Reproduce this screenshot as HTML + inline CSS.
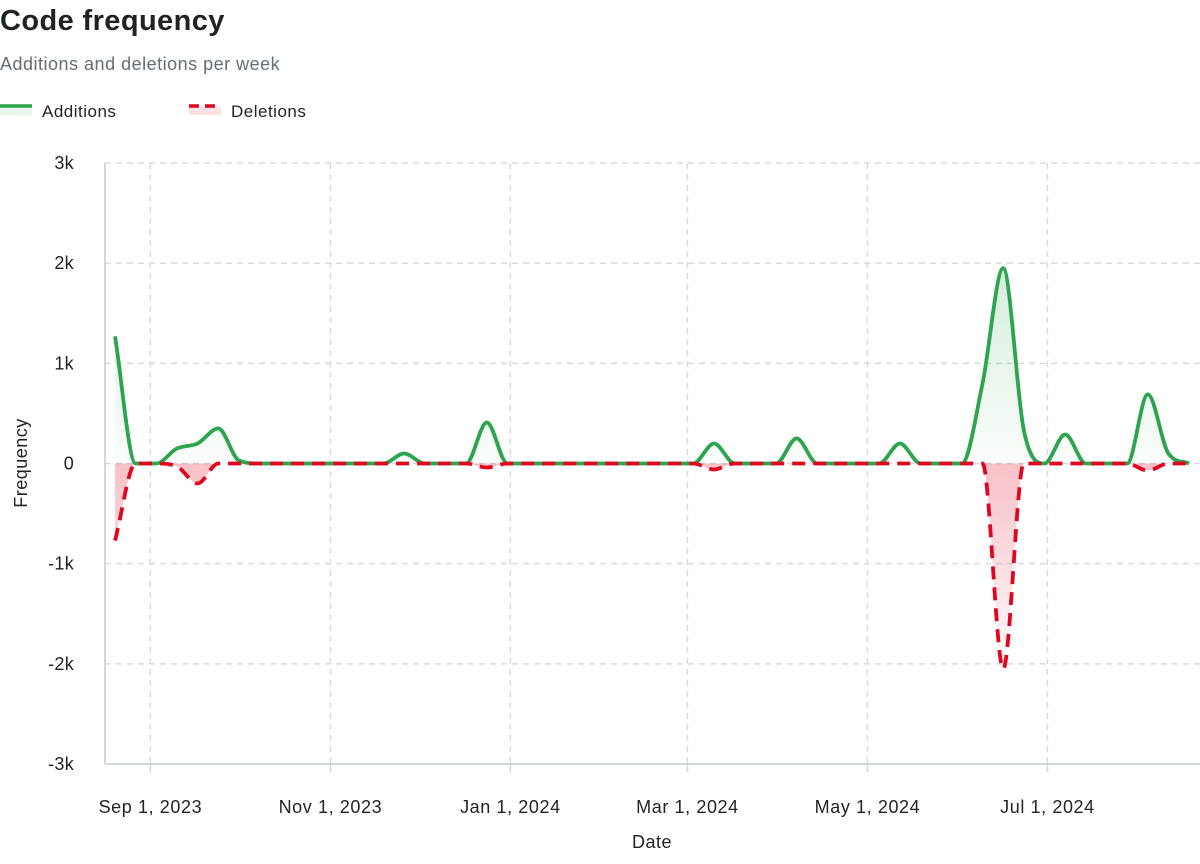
<!DOCTYPE html>
<html><head><meta charset="utf-8">
<style>
body{margin:0;background:#fff;font-family:"Liberation Sans","DejaVu Sans",sans-serif;}
#wrap{position:relative;width:1200px;height:864px;overflow:hidden;}
</style></head>
<body>
<div id="wrap">
<svg id="chart" width="1200" height="864" xmlns="http://www.w3.org/2000/svg">
<defs></defs>
<text x="0" y="30" font-size="29" font-weight="bold" fill="#1f2328" letter-spacing="0.4">Code frequency</text>
<text x="0" y="70" font-size="18" fill="#656d76" letter-spacing="0.5">Additions and deletions per week</text>
<g>
<line x1="0" y1="106" x2="32" y2="106" stroke="#2da44e" stroke-width="3.5"/>
<rect x="0" y="107" width="32" height="8" fill="#2da44e" opacity="0.1"/>
<text x="42" y="117" font-size="17" fill="#1f2328" letter-spacing="0.5">Additions</text>
</g>
<g>
<line x1="189" y1="106" x2="221" y2="106" stroke="#e0061f" stroke-width="3.5" stroke-dasharray="10,6"/>
<rect x="189" y="107" width="32" height="8" fill="#e0061f" opacity="0.12"/>
<text x="231" y="117" font-size="17" fill="#1f2328" letter-spacing="0.5">Deletions</text>
</g>
<g id="grid"></g>
<g id="marks"></g>
<g id="axes"></g>
</svg>
</div>
<script>
const weekStart = "2023-08-20";
const additions = [1270,0,0,150,200,350,30,0,0,0,0,0,0,0,100,0,0,0,410,0,0,0,0,0,0,0,0,0,0,200,0,0,0,250,0,0,0,0,200,0,0,0,800,1950,330,0,290,0,0,0,690,100,0];
const deletions = [-770,0,0,-30,-200,0,0,0,0,0,0,0,0,0,0,0,0,0,-40,0,0,0,0,0,0,0,0,0,0,-60,0,0,0,0,0,0,0,0,0,0,0,0,0,-2050,0,0,0,0,0,0,-70,0,0];
const yTicks = [3000,2000,1000,0,-1000,-2000,-3000];
const yTickLabels = ["3k","2k","1k","0","-1k","-2k","-3k"];
const xTickDates = ["2023-09-01","2023-11-01","2024-01-01","2024-03-01","2024-05-01","2024-07-01"];
const xTickLabels = ["Sep 1, 2023","Nov 1, 2023","Jan 1, 2024","Mar 1, 2024","May 1, 2024","Jul 1, 2024"];

const NS="http://www.w3.org/2000/svg";
const L=105,R=1200,T=163,B=764;
const day=864e5;
const t0=Date.parse(weekStart);
const pxPerDay=180/61;
const x0=115;
function xDate(s){return x0+(Date.parse(s)-t0)/day*pxPerDay;}
function xIdx(i){return x0+i*7*pxPerDay;}
function y(v){return T+(3000-v)/6000*(B-T);}
function el(tag,attrs,parent){const e=document.createElementNS(NS,tag);for(const k in attrs)e.setAttribute(k,attrs[k]);parent.appendChild(e);return e;}
const grid=document.getElementById('grid'),marks=document.getElementById('marks'),axes=document.getElementById('axes'),defs=document.querySelector('defs');

function grad(id,color,topV,botV,o1){const g=el('linearGradient',{id:id,x1:0,x2:0,y1:y(topV),y2:y(botV),gradientUnits:'userSpaceOnUse'},defs);
el('stop',{offset:0,'stop-color':color,'stop-opacity':o1},g);el('stop',{offset:1,'stop-color':color,'stop-opacity':0.02},g);}
grad('gAdd','#2da44e',2000,0,0.2);grad('gDel','#e0061f',0,-2000,0.25);

yTicks.forEach((v,i)=>{
  const g=el('line',{x1:L,x2:R,y1:y(v),y2:y(v),stroke:'#d8dce2','stroke-width':1.5,'stroke-dasharray':'6,5'},grid);
  
  
  const t=el('text',{x:74,y:y(v)+6,'font-size':18,fill:'#1f2328','text-anchor':'end','letter-spacing':0.3},axes);
  t.textContent=yTickLabels[i];
  
  
});
xTickDates.forEach((d,i)=>{
  const x=xDate(d);
  const g=el('line',{x1:x,x2:x,y1:T,y2:B,stroke:'#d8dce2','stroke-width':1.5,'stroke-dasharray':'6,5'},grid);
  
  
  el('line',{x1:x,x2:x,y1:B,y2:B+8,stroke:'#d0d7de','stroke-width':1.5},axes);
  const t=el('text',{x:x,y:813,'font-size':18,fill:'#1f2328','text-anchor':'middle','letter-spacing':0.6},axes);
  t.textContent=xTickLabels[i];
  
  
});
const ya=el('line',{x1:L,x2:L,y1:T,y2:B,stroke:'#d0d7de','stroke-width':2},axes);


const xa=el('line',{x1:L,x2:R,y1:B,y2:B,stroke:'#d0d7de','stroke-width':2},axes);


const xt=el('text',{x:652,y:848,'font-size':18,fill:'#1f2328','text-anchor':'middle','letter-spacing':0.5},axes);
xt.textContent='Date';


const yt=el('text',{x:0,y:0,'font-size':18,fill:'#1f2328','text-anchor':'middle','letter-spacing':0.5,transform:'translate(27,463) rotate(-90)'},axes);
yt.textContent='Frequency';



function monotonePath(pts){
  const n=pts.length,d=[],m=[];
  for(let i=0;i<n-1;i++){d.push((pts[i+1][1]-pts[i][1])/(pts[i+1][0]-pts[i][0]));}
  m[0]=d[0];m[n-1]=d[n-2];
  for(let i=1;i<n-1;i++){m[i]=(d[i-1]*d[i]<=0)?0:(d[i-1]+d[i])/2;}
  for(let i=0;i<n-1;i++){if(d[i]===0){m[i]=0;m[i+1]=0;continue;}
    const a=m[i]/d[i],b=m[i+1]/d[i],s=a*a+b*b;if(s>9){const t=3/Math.sqrt(s);m[i]=t*a*d[i];m[i+1]=t*b*d[i];}}
  let p='M'+pts[0][0]+','+pts[0][1];
  for(let i=0;i<n-1;i++){const h=(pts[i+1][0]-pts[i][0])/3;
    p+=' C'+(pts[i][0]+h)+','+(pts[i][1]+m[i]*h)+' '+(pts[i+1][0]-h)+','+(pts[i+1][1]-m[i+1]*h)+' '+pts[i+1][0]+','+pts[i+1][1];}
  return p;
}
function series(vals,color,gid,dash,name){
  const pts=vals.map((v,i)=>[xIdx(i),y(v)]);
  const p=monotonePath(pts);
  const last=pts[pts.length-1][0];
  const a=el('path',{d:p+' L'+last+','+y(0)+' L'+pts[0][0]+','+y(0)+' Z',fill:'url(#'+gid+')'},marks);
  
  
  const attrs={d:p,fill:'none',stroke:color,'stroke-width':3.8,'stroke-linejoin':'round'};
  if(dash)attrs['stroke-dasharray']=dash;
  const l=el('path',attrs,marks);
  
  
}
series(additions,'#2da44e','gAdd',null,'additions');
series(deletions,'#e0061f','gDel','13,8','deletions');
</script>
</body></html>
